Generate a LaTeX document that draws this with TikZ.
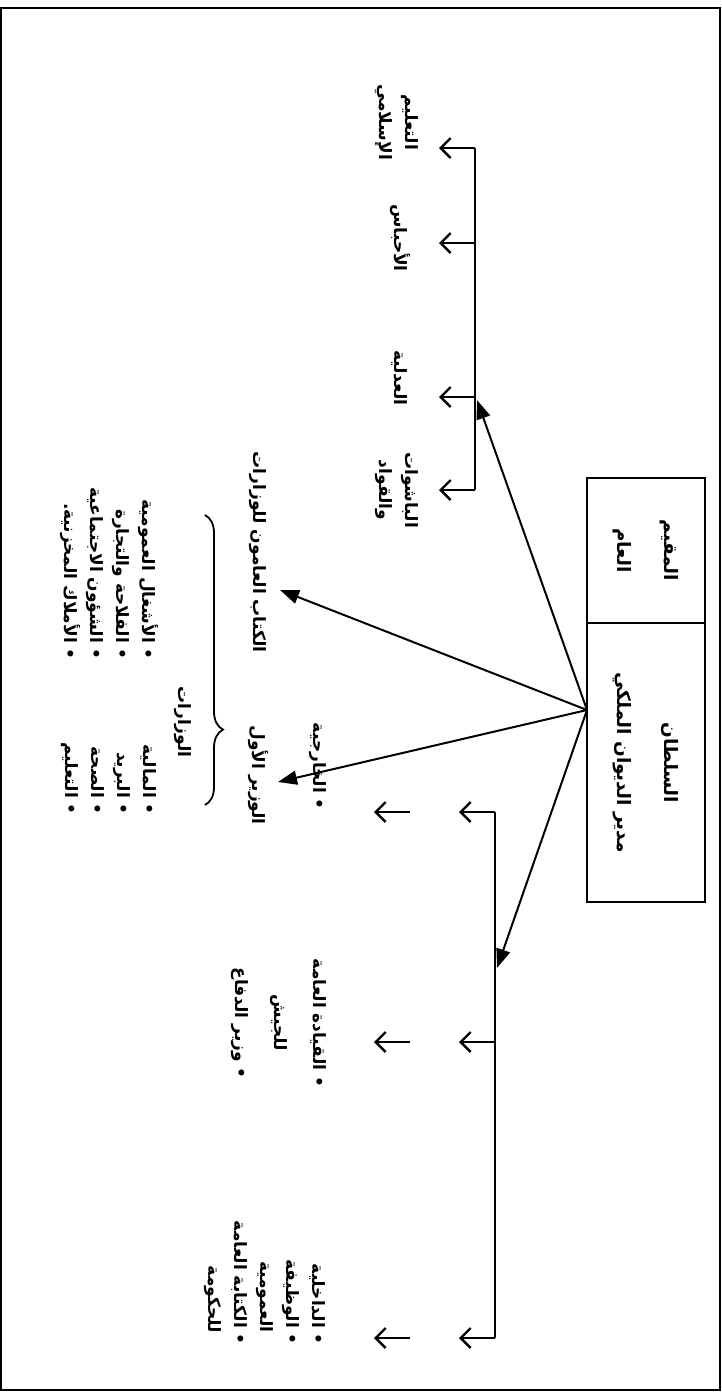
\documentclass[tikz,border=0pt]{standalone}
\usepackage{fontspec}
\newfontfamily\arabicfont[Script=Arabic]{DejaVu Sans}
\TeXXeTstate=1
\usetikzlibrary{arrows.meta,decorations.pathreplacing}
\newcommand{\ar}[1]{\beginR #1\endR}

\begin{document}
\begin{tikzpicture}[x=1pt,y=-1pt]
    \tikzstyle{every node}=[font=\arabicfont\bfseries\fontsize{17}{26}\selectfont, rotate=-90, inner sep=0pt]
    \tikzstyle{cell}=[draw, line width=1.5pt, minimum height=118pt, align=center, font=\arabicfont\bfseries\fontsize{18.5}{47}\selectfont]
    \tikzstyle{lbl}=[align=center]
    \tikzstyle{lst}=[align=right, anchor=east]
    \tikzstyle{bus}=[line width=2.8pt]
    \tikzstyle{smallarrow}=[line width=2.4pt, -{Straight Barb[length=10pt,width=20pt]}]
    \tikzstyle{fan}=[line width=2pt, -{Triangle[length=19pt,width=14pt]}]
    \tikzstyle{curly}=[decorate, decoration={brace, amplitude=18pt, aspect=0.74}, line width=1.8pt]
    \useasboundingbox (0,0) rectangle (721,1393);
    \draw[line width=1.3pt] (1,8) rectangle (720,1390);
    \node[cell, minimum width=145pt] (resident) at (646,550.5) {\ar{المقيم}\\\ar{العام}};
    \node[cell, minimum width=279pt] (sultan) at (646,762.5) {\ar{السلطان}\\\ar{مدير الديوان الملكي}};
    \coordinate (hub) at (587,710);
    \coordinate (l1) at (475,148);
    \coordinate (l2) at (475,243);
    \coordinate (l3) at (475,397);
    \coordinate (l4) at (475,490);
    \coordinate (lhit) at (477,400);
    \draw[bus] (l1) -- (l4);
    \foreach \i in {1,...,4}
        \draw[smallarrow] (l\i) -- ++(-36,0);
    \coordinate (r1) at (495,812);
    \coordinate (r2) at (495,1042);
    \coordinate (r3) at (495,1338);
    \coordinate (rhit) at (497,968);
    \draw[bus] (r1) -- (r3);
    \foreach \i in {1,...,3} {
        \draw[smallarrow] (r\i) -- ++(-36,0);
        \draw[smallarrow] ([xshift=-85pt]r\i) -- ++(-36,0);
    }
    \node (kuttab) at (258,552) {\ar{الكتاب العامون للوزارات}};
    \node (wazir) at (258,775) {\ar{الوزير الأول}};
    \coordinate (kuttabtip) at (280,590);
    \coordinate (wazirtip) at (278,782);
    \draw[fan] (hub) -- (lhit);
    \draw[fan] (hub) -- (kuttabtip);
    \draw[fan] (hub) -- (wazirtip);
    \draw[fan] (hub) -- (rhit);
    \node[lbl] (taalim) at (397,122) {\ar{التعليم}\\\ar{الإسلامي}};
    \node (ahbas) at (400,238) {\ar{الأحباس}};
    \node (adliya) at (400,378) {\ar{العدلية}};
    \node[lbl] (pashas) at (397,490) {\ar{الباشوات}\\\ar{والقواد}};
    \draw[curly] (205,515) -- (205,805);
    \node (wizarat) at (183,722) {\ar{الوزارات}};
    \node[lst] (listA) at (109,815) {\ar{• المالية}\\\ar{• البريد}\\\ar{• الصحة}\\\ar{• التعليم}};
    \node[lst] (listB) at (109,660) {\ar{• الأشغال العمومية}\\\ar{• الفلاحة والتجارة}\\\ar{• الشؤون الاجتماعية}\\\ar{• الأملاك المخزنية.}};
    \node[lst] (kharijiya) at (318,810) {\ar{• الخارجية}};
    \node[lbl] (army) at (279,1023) {\ar{• القيادة العامة}\\[13pt]\ar{للجيش}\\[13pt]\ar{• وزير الدفاع}};
    \node[lst] (interior) at (265,1345) {\ar{• الداخلية}\\\ar{• الوظيفة}\\\ar{\hspace*{12pt}العمومية}\\\ar{• الكتابة العامة}\\\ar{\hspace*{12pt}للحكومة}};
\end{tikzpicture}
\end{document}
